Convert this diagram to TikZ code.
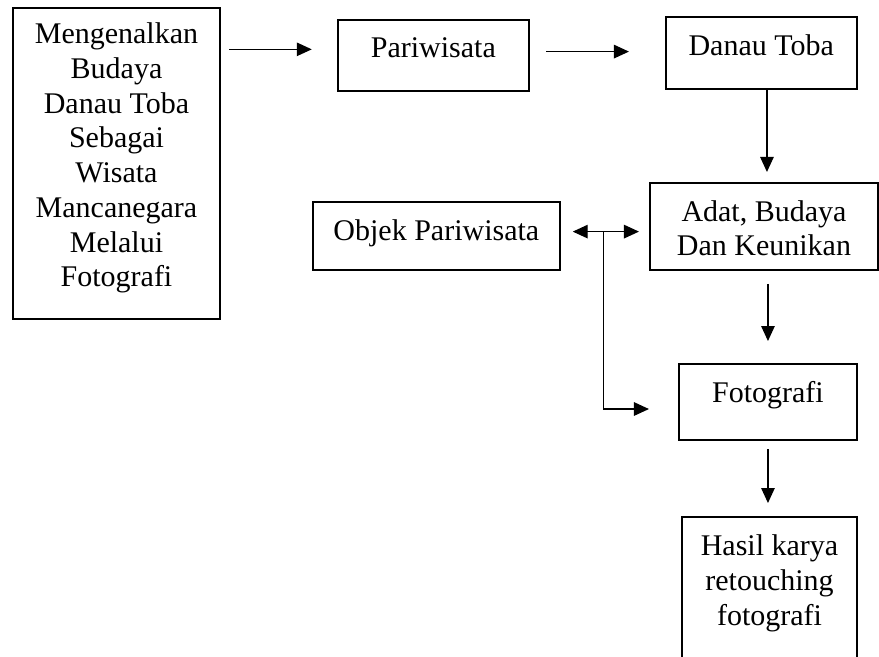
\documentclass[tikz,border=0pt]{standalone}
\usepackage{fontspec}
\setmainfont{Liberation Serif}
\usetikzlibrary{arrows.meta}
\tikzset{
  box/.style={draw=black,line width=0.8pt,inner sep=0pt},
  boxtext/.style={anchor=north,align=center,inner sep=0pt,yshift=-7.2pt,
    font=\fontsize{12}{13.9}\selectfont},
  flow/.style={line width=0.5pt},
  >={Triangle[length=6pt,width=5.4pt]}
}
\begin{document}
\begin{tikzpicture}
    \useasboundingbox (0,0) rectangle (12.358,-9.223);
    \node[box,minimum width=82.8pt,minimum height=124.4pt,
          label={[boxtext,yshift=1.1pt]north:{Mengenalkan\\Budaya\\Danau Toba\\Sebagai\\Wisata\\Mancanegara\\Melalui\\Fotografi}}]
                                        (intro)  at ( 1.638,-2.299) {};
    \node[box,minimum width=76.5pt,minimum height=28.3pt,label={[boxtext]north:Pariwisata}]
                                        (pari)   at ( 6.093,-0.778) {};
    \node[box,minimum width=76.4pt,minimum height=28.7pt,label={[boxtext]north:Danau Toba}]
                                        (danau)  at (10.702,-0.747) {};
    \node[box,minimum width=91.2pt,minimum height=34.9pt,label={[boxtext]north:{Adat, Budaya\\Dan Keunikan}}]
                                        (adat)   at (10.741,-3.182) {};
    \node[box,minimum width=98.9pt,minimum height=27.3pt,label={[boxtext]north:Objek Pariwisata}]
                                        (objek)  at ( 6.135,-3.316) {};
    \node[box,minimum width=71.2pt,minimum height=30.4pt,label={[boxtext]north:Fotografi}]
                                        (foto)   at (10.797,-5.652) {};
    \node[box,minimum width=70.0pt,minimum height=60.3pt,label={[boxtext]north:{Hasil karya\\retouching\\fotografi}}]
                                        (hasil)  at (10.819,-8.332) {};
    \coordinate (branch) at ([xshift=16.9pt,yshift=1.7pt]objek.east);
    \draw[flow,->,shorten <=3.2pt,shorten >=10pt]   ([yshift=2.4pt]intro.east |- pari.west) to ([yshift=2.4pt]pari.west);
    \draw[flow,->,shorten <=6.4pt,shorten >=14.3pt] ([yshift=1.5pt]pari.east) to ([yshift=1.5pt]pari.east -| danau.west);
    \draw[flow,->,shorten >=3.9pt]                  ([xshift=2.3pt]danau.south) to ([xshift=2.3pt]danau.south |- adat.north);
    \draw[flow,<->,shorten <=4.7pt,shorten >=4pt]   ([yshift=1.7pt]objek.east) to ([yshift=1.7pt]objek.east -| adat.west);
    \draw[flow,->,shorten >=11.6pt]                 (branch) |- ([yshift=-2.8pt]foto.west);
    \draw[flow,->,shorten <=5.2pt,shorten >=8.8pt]  (adat.south -| foto.north) to (foto.north);
    \draw[flow,->,shorten <=3.2pt,shorten >=5.3pt]  (foto.south) to (foto.south |- hasil.north);
  \end{tikzpicture}
\end{document}
